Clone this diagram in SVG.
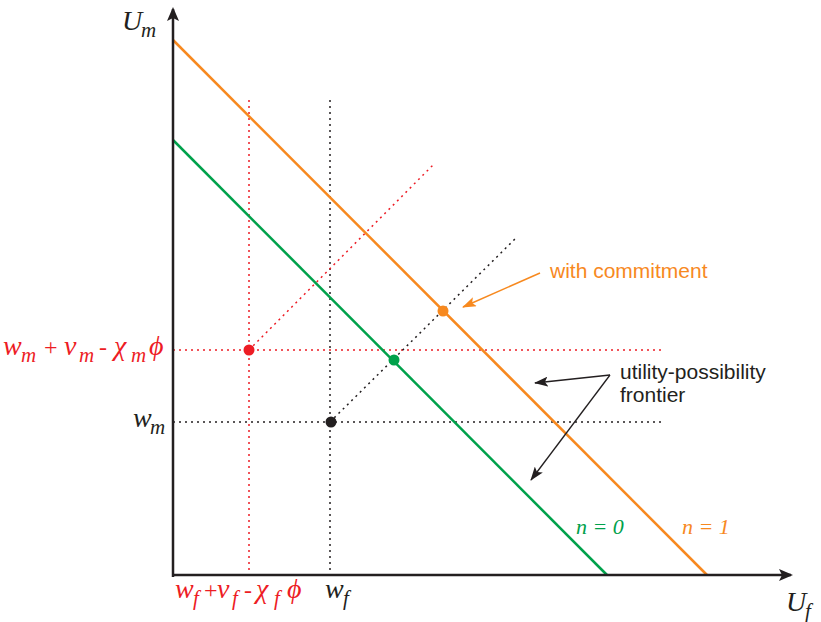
<svg xmlns="http://www.w3.org/2000/svg" width="821" height="622" viewBox="0 0 821 622">
<style>
.dot{stroke-width:1.5;stroke-dasharray:2 4;fill:none}
.red{stroke:#ed1c24}
.blk{stroke:#231f20}
.m{font-family:"Liberation Serif","DejaVu Serif",serif;font-style:italic;font-size:28px}
.sb{font-size:21px}
.op{font-style:normal;font-size:24px}
.s{font-family:"Liberation Sans",Arial,sans-serif;font-size:21px}
</style>
<defs>
<marker id="ax" markerWidth="14" markerHeight="12" refX="12" refY="6" orient="auto" markerUnits="userSpaceOnUse" viewBox="0 0 14 12">
<path d="M0,0 L14,6 L0,12 L3,6 z" fill="#231f20"/>
</marker>
<marker id="ao" markerWidth="14" markerHeight="10" refX="13" refY="5" orient="auto" markerUnits="userSpaceOnUse" viewBox="0 0 14 10">
<path d="M0,0 L14,5 L0,10 L3,5 z" fill="#f7891f"/>
</marker>
<marker id="ab" markerWidth="14" markerHeight="10" refX="13" refY="5" orient="auto" markerUnits="userSpaceOnUse" viewBox="0 0 14 10">
<path d="M0,0 L14,5 L0,10 L3,5 z" fill="#231f20"/>
</marker>
</defs>
<rect width="821" height="622" fill="#fff"/>
<g id="connectors">
<line class="dot red" x1="249" y1="100" x2="249" y2="575"/>
<line class="dot blk" x1="330" y1="100" x2="330" y2="575"/>
<line class="dot red" x1="173" y1="350" x2="663" y2="350"/>
<line class="dot blk" x1="173" y1="422" x2="663" y2="422"/>
<line class="dot red" x1="249" y1="350" x2="435" y2="163"/>
<line class="dot blk" x1="330" y1="422" x2="517" y2="237"/>
<line x1="173" y1="40" x2="707" y2="575" stroke="#f7891f" stroke-width="2.5"/>
<line x1="173" y1="140" x2="607" y2="575" stroke="#00a14b" stroke-width="2.5"/>
<line x1="173" y1="577" x2="173" y2="9" stroke="#231f20" stroke-width="2.5" marker-end="url(#ax)"/>
<line x1="172" y1="575" x2="791" y2="575" stroke="#231f20" stroke-width="2.5" marker-end="url(#ax)"/>
<line x1="540" y1="273" x2="463" y2="307" stroke="#f7891f" stroke-width="1.5" marker-end="url(#ao)"/>
<line x1="610" y1="375" x2="535" y2="383" stroke="#231f20" stroke-width="1.3" marker-end="url(#ab)"/>
<line x1="610" y1="375" x2="531" y2="480" stroke="#231f20" stroke-width="1.3" marker-end="url(#ab)"/>
</g>
<g id="points">
<circle cx="249" cy="350" r="5.5" fill="#ed1c24"/>
<circle cx="331" cy="422" r="5.5" fill="#231f20"/>
<circle cx="394" cy="360" r="5.5" fill="#00a14b"/>
<circle cx="443" cy="311" r="5.5" fill="#f7891f"/>
</g>
<g id="labels">
<text class="m" fill="#231f20"><tspan x="122" y="30">U</tspan><tspan class="sb" x="141" y="37">m</tspan></text>
<text class="m" fill="#231f20"><tspan x="786" y="611">U</tspan><tspan class="sb" x="805" y="618">f</tspan></text>
<text class="m" fill="#ed1c24"><tspan x="3" y="355">w</tspan><tspan class="sb" x="21" y="362">m</tspan><tspan class="op" x="44" y="355">+</tspan><tspan x="64" y="355">v</tspan><tspan class="sb" x="79" y="362">m</tspan><tspan class="op" x="99" y="355">-</tspan><tspan x="114" y="355">χ</tspan><tspan class="sb" x="131" y="362">m</tspan><tspan x="149" y="355">ϕ</tspan></text>
<text class="m" fill="#231f20"><tspan x="133" y="427">w</tspan><tspan class="sb" x="150" y="434">m</tspan></text>
<text class="m" fill="#ed1c24"><tspan x="175" y="598">w</tspan><tspan class="sb" x="193" y="605">f</tspan><tspan class="op" x="204" y="598">+</tspan><tspan x="217" y="598">v</tspan><tspan class="sb" x="232" y="605">f</tspan><tspan class="op" x="244" y="598">-</tspan><tspan x="256" y="598">χ</tspan><tspan class="sb" x="274" y="605">f</tspan><tspan x="287" y="598">ϕ</tspan></text>
<text class="m" fill="#231f20"><tspan x="325" y="598">w</tspan><tspan class="sb" x="343" y="605">f</tspan></text>
<text class="m" x="576" y="534" style="font-size:22px" fill="#00a14b">n = 0</text>
<text class="m" x="682" y="534" style="font-size:22px" fill="#f7891f">n = 1</text>
<text class="s" x="550" y="278" fill="#f7891f">with commitment</text>
<text class="s" x="620" y="379" fill="#231f20">utility-possibility</text>
<text class="s" x="620" y="402" fill="#231f20">frontier</text>
</g>
</svg>
